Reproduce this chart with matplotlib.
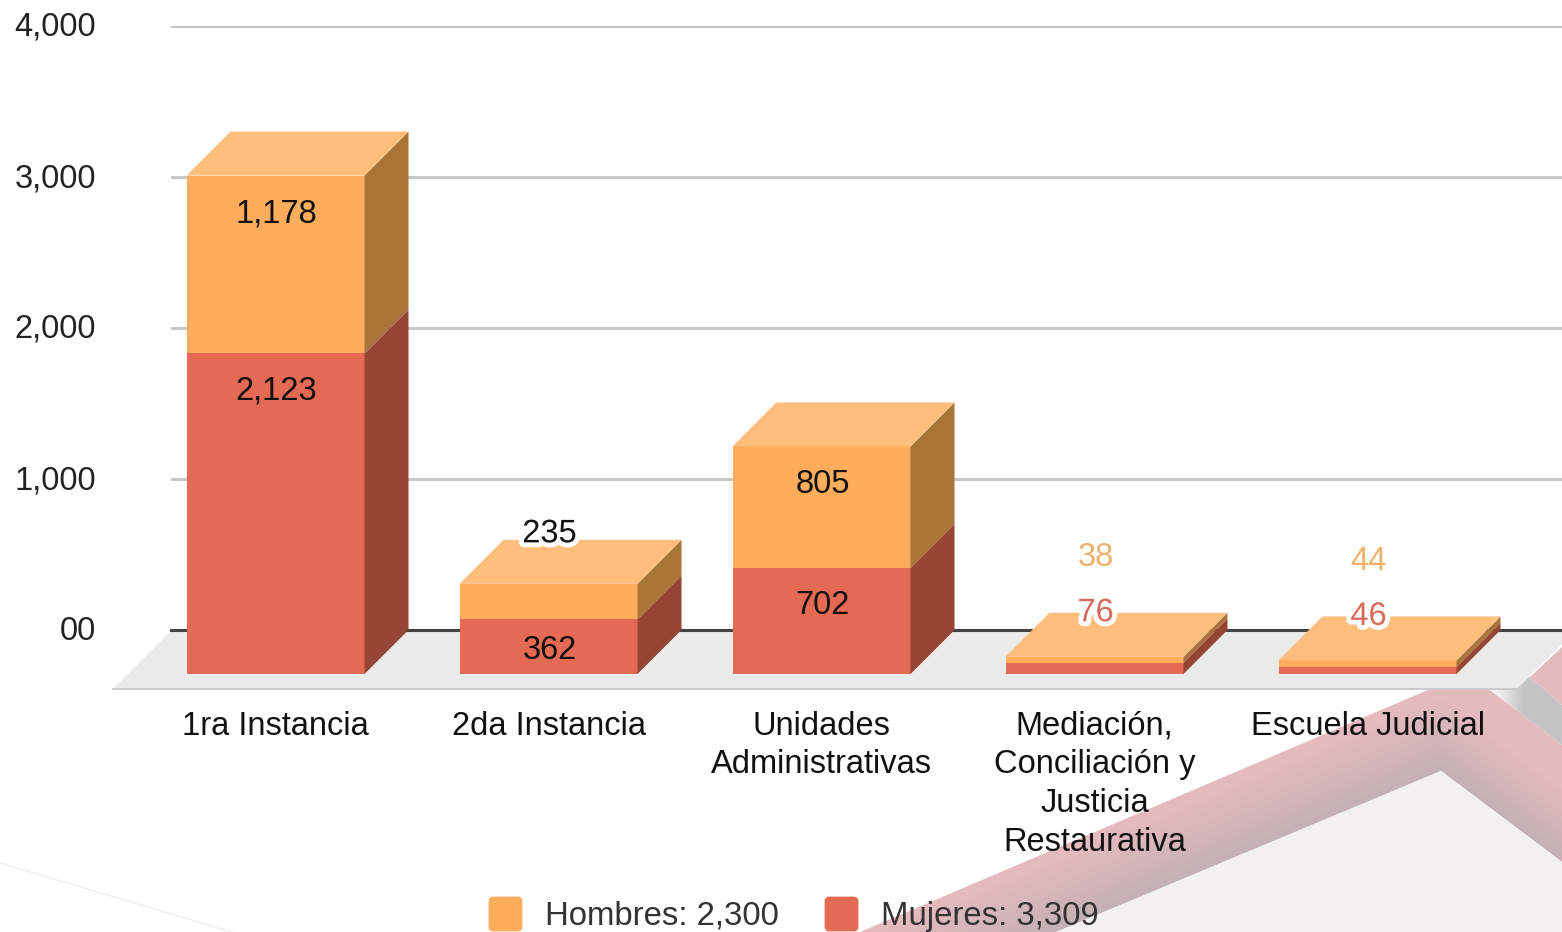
import numpy as np
import matplotlib
matplotlib.use('Agg')
import matplotlib.pyplot as plt
import matplotlib.patheffects as pe
from matplotlib.patches import Polygon, FancyBboxPatch
from matplotlib.transforms import ScaledTranslation

plt.rcParams['font.family'] = ['Liberation Sans', 'DejaVu Sans']

# --- datos ---
categorias = ['1ra Instancia', '2da Instancia', 'Unidades\nAdministrativas',
              'Mediación,\nConciliación y\nJusticia\nRestaurativa', 'Escuela Judicial']
mujeres = [2123, 362, 702, 76, 46]
hombres = [1178, 235, 805, 38, 44]
yticks = [0, 1000, 2000, 3000, 4000]
yticklabels = ['00', '1,000', '2,000', '3,000', '4,000']

# --- colores ---
C_HOMBRES = '#ffad5c'
C_HOMBRES_TOP = '#ffbe7c'
C_HOMBRES_LADO = '#a87438'
C_MUJERES = '#e56a54'
C_MUJERES_LADO = '#964535'
ANCHO, ALTO = 1562, 932
FS = 23.5

fig = plt.figure(figsize=(ANCHO / 100, ALTO / 100), dpi=100, facecolor='white')

# --- fondo decorativo, en pixeles ---
bg = fig.add_axes([0, 0, 1, 1], zorder=0)
bg.set_xlim(0, ANCHO)
bg.set_ylim(ALTO, 0)
bg.axis('off')

# linea tenue abajo a la izquierda
bg.plot([0, 232], [863, 932], color='#ececec', lw=0.8)

# banda rosa con sombra hacia el borde interior
banda = Polygon([(860, 932), (1428, 690), (1490, 690), (1562, 745), (1562, 862),
                 (1441, 771), (1056, 932)], closed=True, fc='none', ec='none')
bg.add_patch(banda)
xx, yy = np.meshgrid(np.arange(850, ANCHO), np.arange(680, ALTO))
borde = np.where(xx < 1441, 771 + (1441 - xx) * 0.418, 771 + (xx - 1441) * 0.752)
t = np.clip((borde - yy) / 75, 0, 1)[..., None]
gris = np.array([0xc3, 0xb1, 0xb3]) / 255
rosa = np.array([0xe4, 0xba, 0xbe]) / 255
img = bg.imshow(gris + (rosa - gris) * t, extent=(850, ANCHO, ALTO, 680),
                aspect='auto', zorder=1)
img.set_clip_path(banda)
bg.set_xlim(0, ANCHO)
bg.set_ylim(ALTO, 0)

# esquina derecha
bg.add_patch(Polygon([(1530, 677), (1562, 647), (1562, 705)], fc='#e4babe', ec='none', zorder=1))
franja = Polygon([(1490, 690), (1530, 677), (1562, 705), (1562, 745)], fc='none', ec='none')
bg.add_patch(franja)
xs = np.linspace(0, 1, 72)[None, :, None]
fr = 1 - (1 - np.array([0xc4, 0xc4, 0xc4]) / 255) * np.clip(xs * 2.2, 0, 1)
img2 = bg.imshow(fr, extent=(1490, ANCHO, 745, 677), aspect='auto', zorder=1)
img2.set_clip_path(franja)
bg.set_xlim(0, ANCHO)
bg.set_ylim(ALTO, 0)

# zona clara interior
bg.add_patch(Polygon([(1056, 932), (1441, 771), (1562, 862), (1562, 932)],
                     fc='#f2f1ee', ec='none', zorder=1))

# piso del grafico
bg.add_patch(Polygon([(113, 689), (171, 631), (1575, 631), (1517, 689)],
                     fc='#ebebeb', ec='none', zorder=2))
bg.plot([113, 1517], [689, 689], color='#c4c4c4', lw=1.2, zorder=2)

# --- ejes del grafico ---
# 0 -> pixel 630, 4000 -> pixel 26; x=i -> 275.5 + 273*i
ax = fig.add_axes([171 / ANCHO, (ALTO - 630) / ALTO, (ANCHO - 171) / ANCHO, 604 / ALTO], zorder=1)
ax.patch.set_alpha(0)
ax.set_ylim(0, 4000)
PX_X = 273.0
ax.set_xlim((171 - 275.5) / PX_X, (ANCHO - 275.5) / PX_X)
for s in ax.spines.values():
    s.set_visible(False)

PX_Y = 604 / 4000
prof_x = 44 / PX_X
prof_y = 44 / PX_Y
base = -44 / PX_Y
medio = 89 / PX_X

ax.set_yticks(yticks, yticklabels, fontsize=FS, color='#222222')
ax.set_xticks(range(len(categorias)), categorias, fontsize=FS, color='#111111', linespacing=1.32)
ax.tick_params(axis='y', length=0, pad=54)
ax.tick_params(axis='x', length=0, pad=58)
ax.grid(axis='y', color='#c6c6c6', lw=2.2, zorder=1)
ax.axhline(0, color='#444444', lw=2.2, zorder=2, clip_on=False)
ax.set_axisbelow(True)

# subir 2 px las etiquetas del eje y
for lab in ax.get_yticklabels():
    lab.set_transform(lab.get_transform() + ScaledTranslation(0, 0.02, fig.dpi_scale_trans))


def caja(x, y0, alto, frente, lado):
    ax.bar(x, alto, width=2 * medio, bottom=y0, color=frente, zorder=4, clip_on=False)
    ax.add_patch(Polygon([(x + medio, y0), (x + medio + prof_x, y0 + prof_y),
                          (x + medio + prof_x, y0 + alto + prof_y), (x + medio, y0 + alto)],
                         fc=lado, ec='none', zorder=4, clip_on=False))


for i, (m, h) in enumerate(zip(mujeres, hombres)):
    caja(i, base, m, C_MUJERES, C_MUJERES_LADO)
    caja(i, base + m, h, C_HOMBRES, C_HOMBRES_LADO)
    tope = base + m + h
    ax.add_patch(Polygon([(i - medio, tope), (i - medio + prof_x, tope + prof_y),
                          (i + medio + prof_x, tope + prof_y), (i + medio, tope)],
                         fc=C_HOMBRES_TOP, ec='none', zorder=5, clip_on=False))

halo = [pe.withStroke(linewidth=7, foreground='white')]
estilo = dict(ha='center', va='center', fontsize=FS, zorder=7, annotation_clip=False,
              textcoords='offset points')
for i, (m, h) in enumerate(zip(mujeres, hombres)):
    xt = i + 1 / PX_X
    tope_atras = base + m + h + prof_y
    if m + h < 200:
        # barras muy bajas: etiquetas de color por encima
        ax.annotate(f'{h:,}', (xt, tope_atras), xytext=(0, 55 * 0.72), color='#efb26e', **estilo)
        ax.annotate(f'{m:,}', (xt, tope_atras), xytext=(0, 0), color='#d9695a',
                    path_effects=halo, **estilo)
        continue
    if h < 300:
        ax.annotate(f'{h:,}', (xt, tope_atras), xytext=(0, 6 * 0.72), color='#111111',
                    path_effects=halo, **estilo)
    else:
        ax.annotate(f'{h:,}', (xt, base + m + h), xytext=(0, -38 * 0.72), color='#111111', **estilo)
    ax.annotate(f'{m:,}', (xt, base + m), xytext=(0, -(min(34, m * PX_Y / 2) + 4) * 0.72), color='#111111', **estilo)

# --- leyenda ---
leyenda = [(489, C_HOMBRES, f'Hombres: {sum(hombres):,}'), (825, C_MUJERES, f'Mujeres: {sum(mujeres):,}')]
for x0, color, texto in leyenda:
    bg.add_patch(FancyBboxPatch((x0 + 1, 898), 31, 32, boxstyle='round,pad=0,rounding_size=3',
                                fc=color, ec=color, lw=2, zorder=3))
    bg.text(x0 + 56, 916, texto, fontsize=FS + 0.2, color='#333333', va='center', ha='left', zorder=3)

fig.savefig('out.png', dpi=100)
